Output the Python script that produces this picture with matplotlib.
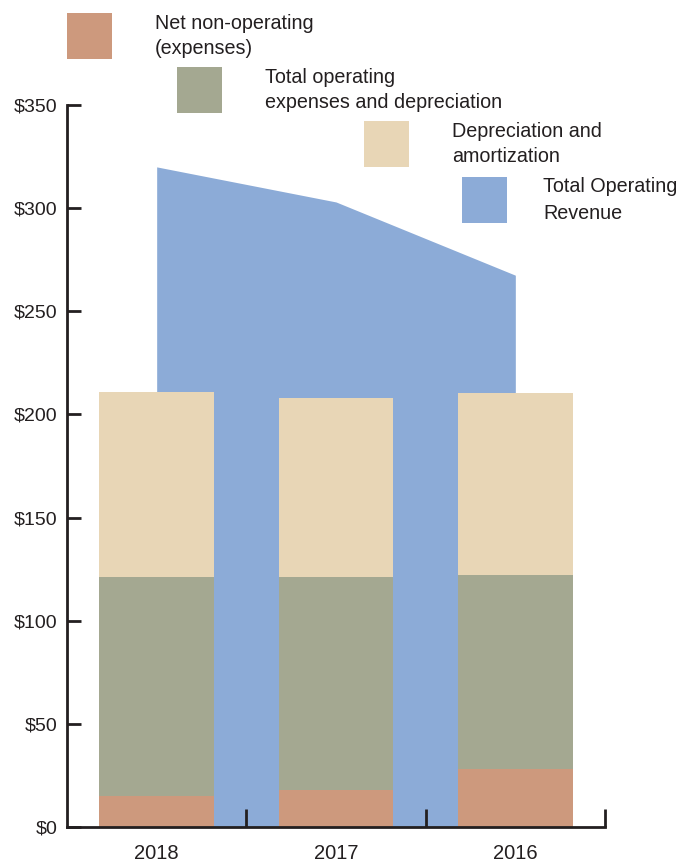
import matplotlib
matplotlib.use("Agg")
import matplotlib.pyplot as plt
from matplotlib.patches import Rectangle

plt.rcParams["font.family"] = ["Liberation Sans", "DejaVu Sans"]

# Data (millions of dollars)
years = ["2018", "2017", "2016"]
net_nonoperating = [15, 18, 28]
operating_expenses = [106, 103, 94]
depreciation = [90, 87, 88.5]
operating_revenue = [320, 303, 267.5]
y_ticks = [0, 50, 100, 150, 200, 250, 300, 350]

legend_labels = [
    "Net non-operating\n(expenses)",
    "Total operating\nexpenses and depreciation",
    "Depreciation and\namortization",
    "Total Operating\nRevenue",
]

c_nonop = "#CD997D"
c_opex = "#A4A891"
c_depr = "#E8D6B6"
c_rev = "#8CABD7"
ink = "#231F20"

W, H = 682, 861
fig = plt.figure(figsize=(W / 100, H / 100), dpi=100)
ax = fig.add_axes([67 / W, (H - 827) / H, (605 - 67) / W, (827 - 105) / H])

x = list(range(len(years)))

# Revenue area behind the stacked bars
ax.fill_between(x, 0, operating_revenue, color=c_rev, linewidth=0, zorder=1)

bw = 0.64
bottom2 = net_nonoperating
bottom3 = [a + b for a, b in zip(net_nonoperating, operating_expenses)]
ax.bar(x, net_nonoperating, width=bw, color=c_nonop, zorder=2)
ax.bar(x, operating_expenses, width=bw, bottom=bottom2, color=c_opex, zorder=2)
ax.bar(x, depreciation, width=bw, bottom=bottom3, color=c_depr, zorder=2)

ax.set_xlim(-0.5, 2.5)
ax.set_ylim(0, 350)

for side in ["top", "right"]:
    ax.spines[side].set_visible(False)
for side in ["left", "bottom"]:
    ax.spines[side].set_linewidth(2.0)
    ax.spines[side].set_color(ink)

ax.set_yticks(y_ticks)
ax.set_yticklabels([f"${v}" for v in y_ticks])
ax.tick_params(axis="y", direction="in", length=10, width=2, color=ink,
               labelsize=14, labelcolor=ink, pad=7)

# Ticks at category boundaries, labels at category centres
ax.set_xticks([0.5, 1.5, 2.5])
ax.set_xticklabels([])
ax.set_xticks(x, minor=True)
ax.set_xticklabels(years, minor=True)
ax.tick_params(axis="x", which="major", direction="in", length=13, width=2, color=ink)
ax.tick_params(axis="x", which="minor", length=0, labelsize=14.5, labelcolor=ink, pad=12)

# Staggered legend above the plot
legend_items = [
    (c_nonop, 67, 13, 155, 1.42),
    (c_opex, 177, 67, 265, 1.42),
    (c_depr, 364, 121, 452, 1.42),
    (c_rev, 462, 177, 543, 1.5),
]
for (color, px, py, tx, ls), label in zip(legend_items, legend_labels):
    fig.add_artist(Rectangle((px / W, 1 - (py + 46) / H), 45 / W, 46 / H,
                             transform=fig.transFigure, color=color, linewidth=0))
    fig.text(tx / W, 1 - (py + 23) / H, label, ha="left", va="center",
             fontsize=14.2, color=ink, linespacing=ls)

fig.savefig("out.png", dpi=100)
